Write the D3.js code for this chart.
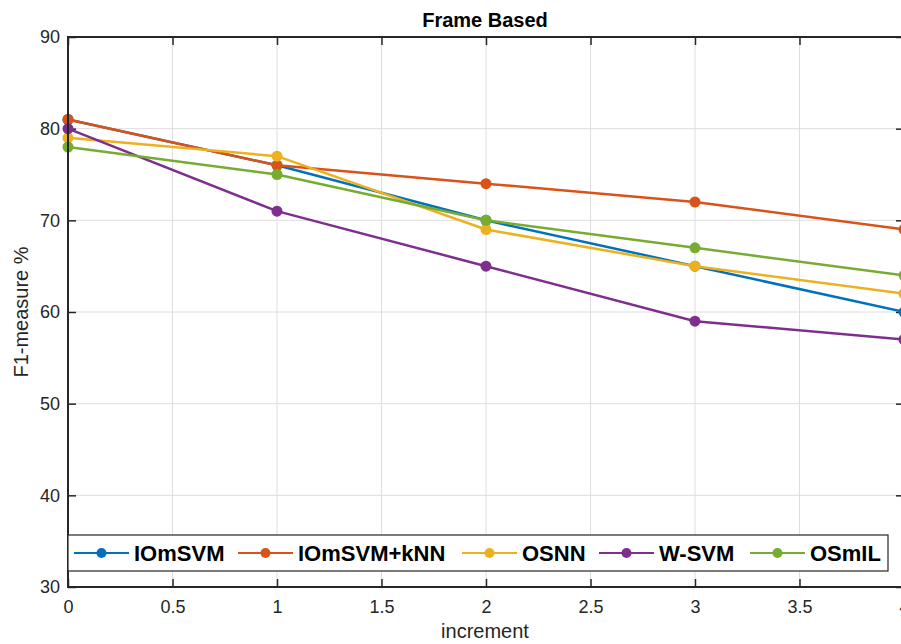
<!DOCTYPE html>
<html><head><meta charset="utf-8">
<script src="https://cdn.jsdelivr.net/npm/d3@7"></script>
<style>body{margin:0;background:#fff;} svg{display:block;font-family:"Liberation Sans",Arial,sans-serif;}</style>
</head><body>
<svg id="c" width="901" height="644"></svg>
<script>
const xValues = [0, 1, 2, 3, 4];
const seriesNames = ["IOmSVM", "IOmSVM+kNN", "OSNN", "W-SVM", "OSmIL"];
const seriesColors = ["#0072BD", "#D95319", "#EDB120", "#7E2F8E", "#77AC30"];
const IOmSVM = [81, 76, 70, 65, 60];
const IOmSVM_kNN = [81, 76, 74, 72, 69];
const OSNN = [79, 77, 69, 65, 62];
const W_SVM = [80, 71, 65, 59, 57];
const OSmIL = [78, 75, 70, 67, 64];
const seriesValues = [IOmSVM, IOmSVM_kNN, OSNN, W_SVM, OSmIL];
const xTicks = [0, 0.5, 1, 1.5, 2, 2.5, 3, 3.5, 4];
const yTicks = [30, 40, 50, 60, 70, 80, 90];
const title = "Frame Based", xLabel = "increment", yLabel = "F1-measure %";

const svg = d3.select("#c");
const L = 68, R = 904, T = 37, B = 587;
const x = d3.scaleLinear().domain([0, 4]).range([L, R]);
const y = d3.scaleLinear().domain([30, 90]).range([B, T]);
const axCol = "#262626";

// grid
const g = svg.append("g");
g.selectAll(".gx").data(xTicks.slice(1)).enter().append("line")
  .attr("x1", d => x(d)).attr("x2", d => x(d)).attr("y1", T).attr("y2", B)
  .attr("stroke", "#dedede").attr("stroke-width", 1);
g.selectAll(".gy").data(yTicks.slice(1, -1)).enter().append("line")
  .attr("y1", d => y(d)).attr("y2", d => y(d)).attr("x1", L).attr("x2", R)
  .attr("stroke", "#dedede").attr("stroke-width", 1);

// axes
const xAxB = d3.axisBottom(x).tickValues(xTicks).tickSize(-8).tickPadding(13).tickFormat(d3.format("~g"));
const xAxT = d3.axisTop(x).tickValues(xTicks).tickSize(-8).tickFormat("");
const yAxL = d3.axisLeft(y).tickValues(yTicks).tickSize(-8).tickPadding(8);
const yAxR = d3.axisRight(y).tickValues(yTicks).tickSize(-8).tickFormat("");
function style(sel){
  sel.select(".domain").remove();
  sel.selectAll("line").attr("stroke", axCol).attr("stroke-width", 1.5);
  sel.selectAll("text").attr("fill", axCol).style("font-size", "18px").style("font-family", "Liberation Sans, Arial, sans-serif");
}
svg.append("g").attr("transform", `translate(0,${B})`).call(xAxB).call(style);
svg.append("g").attr("transform", `translate(0,${T})`).call(xAxT).call(style);
svg.append("g").attr("transform", `translate(${L},0)`).call(yAxL).call(style);
svg.append("g").attr("transform", `translate(${R},0)`).call(yAxR).call(style);

// lines
const line = d3.line().x((d, i) => x(xValues[i])).y(d => y(d));
seriesValues.forEach((vals, k) => {
  svg.append("path").datum(vals).attr("d", line).attr("fill", "none")
    .attr("stroke", seriesColors[k]).attr("stroke-width", 2.5);
  svg.selectAll(".m" + k).data(vals).enter().append("circle")
    .attr("cx", (d, i) => x(xValues[i])).attr("cy", d => y(d)).attr("r", 5.5)
    .attr("fill", seriesColors[k]);
});

// box
svg.append("rect").attr("x", L).attr("y", T).attr("width", R - L).attr("height", B - T)
  .attr("fill", "none").attr("stroke", axCol).attr("stroke-width", 2);

// title & labels
svg.append("text").attr("x", 485).attr("y", 27).attr("text-anchor", "middle")
  .style("font-size", "20px").style("font-weight", "bold").attr("fill", "#000").text(title);
svg.append("text").attr("x", 485).attr("y", 638).attr("text-anchor", "middle")
  .style("font-size", "20px").attr("fill", axCol).text(xLabel);
svg.append("text").attr("transform", `translate(28,312) rotate(-90)`).attr("text-anchor", "middle")
  .style("font-size", "20px").attr("fill", axCol).text(yLabel);

// legend
const lg = svg.append("g");
lg.append("rect").attr("x", 68).attr("y", 535).attr("width", 820).attr("height", 36)
  .attr("fill", "#fff").attr("stroke", axCol).attr("stroke-width", 1.2);
const lineStarts = [74, 238, 462, 599, 750];
seriesNames.forEach((n, k) => {
  const x0 = lineStarts[k];
  lg.append("line").attr("x1", x0).attr("x2", x0 + 55).attr("y1", 553).attr("y2", 553)
    .attr("stroke", seriesColors[k]).attr("stroke-width", 2.2);
  lg.append("circle").attr("cx", x0 + 27.5).attr("cy", 553).attr("r", 5).attr("fill", seriesColors[k]);
  lg.append("text").attr("x", x0 + 60).attr("y", 561).style("font-size", "22px")
    .style("font-weight", "bold").attr("fill", "#000").text(n);
});
</script>
</body></html>
